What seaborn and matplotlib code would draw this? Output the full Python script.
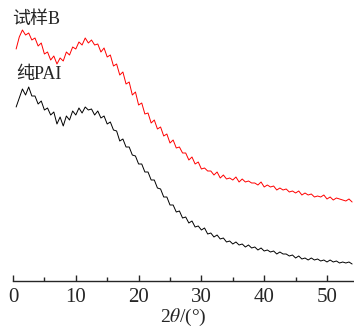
import numpy as np
import pandas as pd
import seaborn as sns
import matplotlib.pyplot as plt

# ==================================
# dados (2theta, intensidade u.a.)
# ==================================

two_theta = np.arange(0.5, 54.01, 0.5)

sample_b = [
    232, 244, 251, 246, 248, 241, 243, 235, 238, 227,
    229, 221, 225, 217, 223, 220, 229, 226, 234, 232,
    239, 236, 243, 238, 241, 236, 237, 229, 233, 224,
    226, 215, 217, 206, 209, 197, 199, 186, 189, 176,
    178, 167, 168, 158, 161, 152, 154, 145, 147, 138,
    141, 133, 134, 128, 128, 121, 124, 117, 119, 112,
    113, 110, 110, 106, 109, 103, 106, 102, 103, 101,
    104, 99, 102, 99, 100, 98, 98, 96, 99, 94,
    96, 94, 95, 91, 93, 91, 92, 89, 90, 88,
    90, 86, 88, 86, 87, 84, 85, 84, 86, 82,
    84, 81, 83, 82, 81, 80, 82, 79,
]

pure_pai = [
    174, 183, 192, 186, 194, 185, 185, 177, 180, 171,
    173, 166, 169, 157, 164, 155, 165, 161, 170, 166,
    173, 168, 174, 171, 172, 166, 170, 163, 165, 157,
    159, 151, 150, 140, 142, 134, 134, 126, 125, 117,
    117, 109, 109, 101, 101, 93, 92, 84, 84, 76,
    76, 69, 70, 63, 64, 58, 60, 54, 55, 51,
    53, 47, 48, 44, 46, 42, 43, 39, 40, 37,
    39, 36, 37, 34, 36, 33, 34, 31, 33, 30,
    31, 29, 30, 27, 29, 27, 27, 25, 26, 23,
    25, 22, 23, 21, 23, 21, 22, 20, 21, 19,
    21, 19, 20, 18, 19, 18, 19, 17,
]

labels = ["试样B", "纯PAI"]
xticks = [0, 10, 20, 30, 40, 50]

df = pd.DataFrame({
    "2theta": np.concatenate([two_theta, two_theta]),
    "intensidade": np.array(sample_b + pure_pai, dtype=float),
    "amostra": [labels[0]] * len(two_theta) + [labels[1]] * len(two_theta),
})

# ==================================
# figura
# ==================================

sns.set_style("ticks")
plt.rcParams["font.family"] = ["Liberation Serif", "Noto Sans CJK SC", "DejaVu Sans"]
plt.rcParams["mathtext.fontset"] = "stix"

fig = plt.figure(figsize=(3.54, 3.28), dpi=100)
ax = fig.add_axes([13 / 354, 47 / 328, 341 / 354, 281 / 328])

sns.lineplot(
    data=df,
    x="2theta",
    y="intensidade",
    hue="amostra",
    palette={labels[0]: "#ff0000", labels[1]: "#000000"},
    linewidth=0.7,
    legend=False,
    ax=ax,
)

ax.text(-0.15, 262, labels[0], fontsize=13, va="center", ha="left")
ax.text(0.5, 207, labels[1], fontsize=13, va="center", ha="left")

ax.set_xlim(0, 54.3)
ax.set_ylim(0, 281)
ax.set_xticks(xticks)
ax.set_xticks([5, 15, 25, 35, 45], minor=True)
ax.tick_params(axis="x", direction="in", length=4, width=1, labelsize=15, pad=5)
ax.tick_params(axis="x", which="minor", direction="in", length=3, width=1)
ax.set_yticks([])
ax.set_ylabel("")
ax.set_xlabel(r"2$\mathit{\theta}$/(°)", fontsize=14, labelpad=0)

for lado in ["left", "right", "top"]:
    ax.spines[lado].set_visible(False)
ax.spines["bottom"].set_linewidth(1)

fig.savefig("out.png", dpi=100)
